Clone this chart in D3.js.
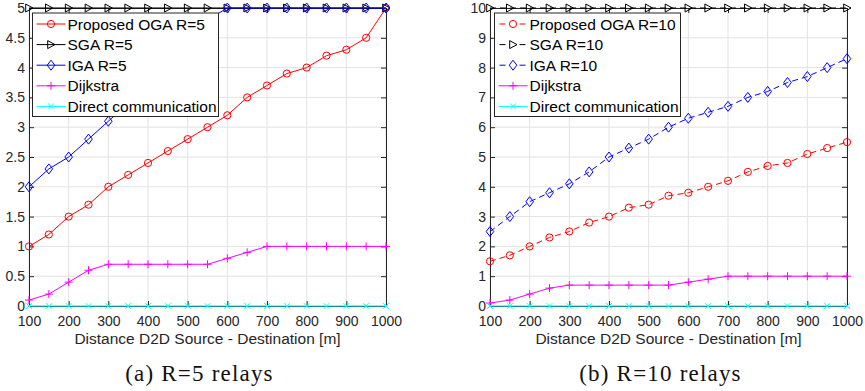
<!DOCTYPE html>
<html>
<head>
<meta charset="utf-8">
<script src="https://cdn.jsdelivr.net/npm/d3@7/dist/d3.min.js"></script>
<style>
  body { margin: 0; background: #fff; }
  svg { display: block; }
</style>
</head>
<body>
<div id="chart"></div>
<script>
// x values shared by both panels
var distances = [100,150,200,250,300,350,400,450,500,550,600,650,700,750,800,850,900,950,1000];
var xTicks = [100,200,300,400,500,600,700,800,900,1000];

// panel (a) R=5
var ogaR5 = [1,1.2,1.5,1.7,2.0,2.2,2.4,2.6,2.8,3.0,3.2,3.5,3.7,3.9,4.0,4.2,4.3,4.5,5];
var sgaR5 = [5,5,5,5,5,5,5,5,5,5,5,5,5,5,5,5,5,5,5];
var igaR5 = [2.0,2.3,2.5,2.8,3.1,3.4,3.7,4.0,4.3,4.8,5,5,5,5,5,5,5,5,5];
var yTicksA = [0,0.5,1,1.5,2,2.5,3,3.5,4,4.5,5];

// panel (b) R=10
var ogaR10 = [1.5,1.7,2.0,2.3,2.5,2.8,3.0,3.3,3.4,3.7,3.8,4.0,4.2,4.5,4.7,4.8,5.1,5.3,5.5];
var sgaR10 = [10,10,10,10,10,10,10,10,10,10,10,10,10,10,10,10,10,10,10];
var igaR10 = [2.5,3.0,3.5,3.8,4.1,4.5,5.0,5.3,5.6,6.0,6.3,6.5,6.7,7.0,7.2,7.5,7.7,8.0,8.3];
var yTicksB = [0,1,2,3,4,5,6,7,8,9,10];

// same in both panels
var dijkstra = [0.1,0.2,0.4,0.6,0.7,0.7,0.7,0.7,0.7,0.7,0.8,0.9,1,1,1,1,1,1,1];
var direct = [0,0,0,0,0,0,0,0,0,0,0,0,0,0,0,0,0,0,0];

var W = 865, H = 391;
var svg = d3.select("#chart").append("svg")
  .attr("width", W)
  .attr("height", H);

var axisColor = "#262626";
var font = "'Liberation Sans', Arial, Helvetica, sans-serif";
var fmt = d3.format("~g");

// marker shapes
var markerPaths = {
  circle: "M3.6,0A3.6,3.6 0 1,1 -3.6,0A3.6,3.6 0 1,1 3.6,0Z",
  triangle: "M-3.3,-4L4,0L-3.3,4Z",
  diamond: "M0,-5L3.8,0L0,5L-3.8,0Z",
  plus: "M-4,0H4M0,-4V4",
  cross: "M-2.8,-2.8L2.8,2.8M-2.8,2.8L2.8,-2.8"
};

function drawPanel(cfg) {
  var g = svg.append("g");

  var x = d3.scaleLinear().domain([100, 1000]).range(cfg.xRange);
  var y = d3.scaleLinear().domain([0, cfg.yMax]).range([306, 8]);

  // grid
  g.append("g").selectAll("line.gx").data(xTicks).enter().append("line")
    .attr("x1", function (d) { return x(d); })
    .attr("x2", function (d) { return x(d); })
    .attr("y1", y(0)).attr("y2", y(cfg.yMax))
    .attr("stroke", "#e3e3e3").attr("stroke-width", 1);
  g.append("g").selectAll("line.gy").data(cfg.yTicks).enter().append("line")
    .attr("y1", function (d) { return y(d); })
    .attr("y2", function (d) { return y(d); })
    .attr("x1", x(100)).attr("x2", x(1000))
    .attr("stroke", "#e3e3e3").attr("stroke-width", 1);

  // axes (ticks pointing inward, like matlab)
  g.append("g")
    .attr("transform", "translate(0," + y(0) + ")")
    .call(d3.axisBottom(x).tickValues(xTicks).tickFormat(fmt).tickSizeInner(-5).tickSizeOuter(0).tickPadding(10));
  g.append("g")
    .attr("transform", "translate(" + x(100) + ",0)")
    .call(d3.axisLeft(y).tickValues(cfg.yTicks).tickFormat(fmt).tickSizeInner(-5).tickSizeOuter(0).tickPadding(4));
  g.append("g")
    .attr("transform", "translate(" + x(1000) + ",0)")
    .call(d3.axisRight(y).tickValues(cfg.yTicks).tickSizeInner(-5).tickSizeOuter(0).tickFormat(""));
  g.append("g")
    .attr("transform", "translate(0," + y(cfg.yMax) + ")")
    .call(d3.axisTop(x).tickValues(xTicks).tickSizeInner(-5).tickSizeOuter(0).tickFormat(""));

  g.selectAll(".domain, .tick line").attr("stroke", axisColor);
  g.selectAll(".tick text")
    .attr("fill", axisColor)
    .style("font-family", font)
    .style("font-size", "14px");

  // x label
  g.append("text")
    .attr("x", (cfg.xRange[0] + cfg.xRange[1]) / 2)
    .attr("y", 344)
    .attr("text-anchor", "middle")
    .attr("fill", axisColor)
    .style("font-family", font)
    .style("font-size", "15.5px")
    .text("Distance D2D Source - Destination [m]");

  // caption
  g.append("text")
    .attr("x", (cfg.xRange[0] + cfg.xRange[1]) / 2 - 8)
    .attr("y", 381)
    .attr("text-anchor", "middle")
    .attr("fill", "#111")
    .style("font-family", "'Liberation Serif', 'Times New Roman', serif")
    .style("font-size", "23px")
    .style("letter-spacing", "1.2px")
    .text(cfg.caption);

  var line = d3.line()
    .x(function (d, i) { return x(distances[i]); })
    .y(function (d) { return y(d); });

  cfg.series.forEach(function (s) {
    var sg = g.append("g");
    sg.append("path")
      .datum(s.values)
      .attr("d", line)
      .attr("fill", "none")
      .attr("stroke", s.color)
      .attr("stroke-width", 1)
      .attr("stroke-dasharray", s.dashed ? "6,4" : null);
    sg.selectAll("path.m").data(s.values).enter().append("path")
      .attr("class", "m")
      .attr("transform", function (d, i) { return "translate(" + x(distances[i]) + "," + y(d) + ")"; })
      .attr("d", markerPaths[s.marker])
      .attr("fill", "none")
      .attr("stroke", s.color)
      .attr("stroke-width", 1);
  });

  // legend
  var lx = cfg.legendX, ly = 13, lw = 186, rowH = 20.6;
  var leg = g.append("g").attr("transform", "translate(" + lx + "," + ly + ")");
  leg.append("rect")
    .attr("width", lw).attr("height", 103.5)
    .attr("fill", "#fff")
    .attr("stroke", axisColor).attr("stroke-width", 1);
  cfg.series.forEach(function (s, i) {
    var yy = 11 + i * rowH;
    leg.append("line")
      .attr("x1", 4).attr("x2", 33).attr("y1", yy).attr("y2", yy)
      .attr("stroke", s.color).attr("stroke-width", 1)
      .attr("stroke-dasharray", s.dashed ? "6,4" : null)
      .attr("stroke-dashoffset", s.dashed ? -1 : null);
    leg.append("path")
      .attr("transform", "translate(18.5," + yy + ")")
      .attr("d", markerPaths[s.marker])
      .attr("fill", s.dashed ? "#fff" : "none")
      .attr("stroke", s.color).attr("stroke-width", 1);
    leg.append("text")
      .attr("x", 35).attr("y", yy + 5.5)
      .attr("fill", "#000")
      .style("font-family", font)
      .style("font-size", "15.5px")
      .text(s.name);
  });
}

drawPanel({
  xRange: [29, 386],
  yMax: 5,
  yTicks: yTicksA,
  legendX: 32.5,
  caption: "(a) R=5 relays",
  series: [
    { name: "Proposed OGA R=5", values: ogaR5, color: "#ff0000", marker: "circle" },
    { name: "SGA R=5", values: sgaR5, color: "#000000", marker: "triangle" },
    { name: "IGA R=5", values: igaR5, color: "#0000ff", marker: "diamond" },
    { name: "Dijkstra", values: dijkstra, color: "#ff00ff", marker: "plus" },
    { name: "Direct communication", values: direct, color: "#00ffff", marker: "cross" }
  ]
});

drawPanel({
  xRange: [490, 847],
  yMax: 10,
  yTicks: yTicksB,
  legendX: 494.5,
  caption: "(b) R=10 relays",
  series: [
    { name: "Proposed OGA R=10", values: ogaR10, color: "#ff0000", marker: "circle", dashed: true },
    { name: "SGA R=10", values: sgaR10, color: "#000000", marker: "triangle", dashed: true },
    { name: "IGA R=10", values: igaR10, color: "#0000ff", marker: "diamond", dashed: true },
    { name: "Dijkstra", values: dijkstra, color: "#ff00ff", marker: "plus" },
    { name: "Direct communication", values: direct, color: "#00ffff", marker: "cross" }
  ]
});
</script>
</body>
</html>
